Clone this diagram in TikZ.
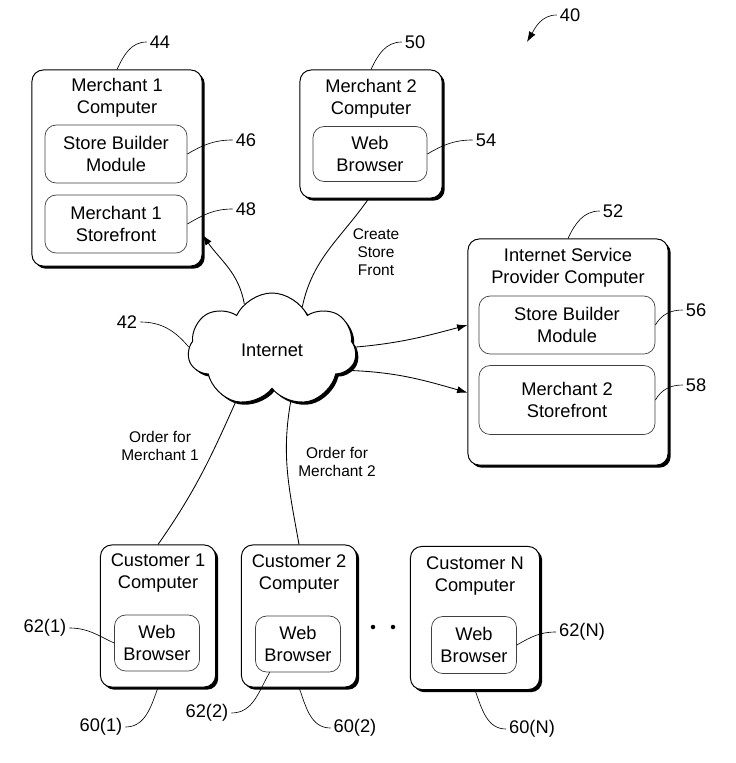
\documentclass[tikz,border=0pt]{standalone}
\usepackage{fontspec}
\setmainfont{Liberation Sans}
\usetikzlibrary{arrows.meta, positioning, shapes.symbols, shadows}

\newcommand{\boxfont}{\fontsize{13pt}{15.6pt}\selectfont}
\newcommand{\lblfont}{\fontsize{11pt}{12.8pt}\selectfont}

\begin{document}
\begin{tikzpicture}[x=0.025cm, y=-0.025cm, font=\boxfont,
  boxshadow/.style={drop shadow={shadow xshift=1.9pt, shadow yshift=-1.9pt, fill=black, opacity=1}},
  computer/.style={draw, line width=0.7pt, rounded corners=8pt, fill=white, boxshadow},
  module/.style={draw=black!75, line width=0.5pt, rounded corners=8pt, align=center},
  title/.style={align=center},
  leader/.style={line width=0.45pt},
  link/.style={line width=0.6pt},
  arrow/.style={link, -{Latex[length=2.6mm, width=1.8mm]}},
  linklabel/.style={font=\lblfont, align=center},
  refnum/.style={inner sep=2pt}]

\useasboundingbox (0,0) rectangle (736,763);

% merchant computers
\node[computer, minimum width=4.25cm, minimum height=4.9cm] (m1) at (117,168) {};
\node[title] (m1t) at (117,98) {Merchant 1\\Computer};
\node[module, minimum width=3.55cm, minimum height=1.45cm] (sbm1) at (116,154) {Store Builder\\Module};
\node[module, minimum width=3.55cm, minimum height=1.45cm] (sf1) at (116,224) {Merchant 1\\Storefront};

\node[computer, minimum width=3.55cm, minimum height=3.2cm] (m2) at (371,134) {};
\node[title] (m2t) at (371,99) {Merchant 2\\Computer};
\node[module, minimum width=2.85cm, minimum height=1.375cm] (wbm2) at (370,154) {Web\\Browser};

% isp computer
\node[computer, minimum width=5cm, minimum height=5.65cm] (isp) at (568,352) {};
\node[title] (ispt) at (568,268) {Internet Service\\Provider Computer};
\node[module, minimum width=4.4cm, minimum height=1.45cm] (sbmisp) at (567,325) {Store Builder\\Module};
\node[module, minimum width=4.4cm, minimum height=1.725cm] (sf2) at (567,400) {Merchant 2\\Storefront};

% internet
\node[cloud, draw, line width=0.7pt, cloud puffs=7, cloud puff arc=130, cloud ignores aspect, fill=white, boxshadow,
  minimum width=4.2cm, minimum height=2.85cm] (net) at (272,350) {Internet};

% customer computers
\node[computer, minimum width=2.875cm, minimum height=3.55cm] (c1) at (158,616) {};
\node[title] (c1t) at (158,573) {Customer 1\\Computer};
\node[module, minimum width=2.125cm, minimum height=1.4cm] (wbc1) at (157,643) {Web\\Browser};

\node[computer, minimum width=2.875cm, minimum height=3.55cm] (c2) at (299,616) {};
\node[title] (c2t) at (299,574) {Customer 2\\Computer};
\node[module, minimum width=2.125cm, minimum height=1.4cm] (wbc2) at (298,644) {Web\\Browser};

\node[computer, minimum width=3.225cm, minimum height=3.575cm] (cN) at (475,618) {};
\node[title] (cNt) at (475,576) {Customer N\\Computer};
\node[module, minimum width=2.125cm, minimum height=1.425cm] (wbcN) at (474,645) {Web\\Browser};

\fill (373,627) circle (1.6pt) (393,627) circle (1.6pt);

% connections
\draw[arrow] (net.121) to[out=100, in=-55] (m1.-38);
\draw[link] (net.55) to[out=78, in=-125] (m2.268);
\draw[arrow] (net.2) to[out=5, in=195] (isp.165);
\draw[arrow] (net.-15) to[out=-2, in=164] (isp.-158);
\draw[link] (net.-125) to[out=-114, in=55] (c1.north);
\draw[link] (net.-70) to[out=-100, in=100] (c2.north);

\node[linklabel] (lcsf) at (376,252) {Create\\Store\\Front};
\node[linklabel] (lo1) at (160,446) {Order for\\Merchant 1};
\node[linklabel] (lo2) at (337,462) {Order for\\Merchant 2};

% reference numerals
\node[refnum] (l40) at (570,15) {40};
\coordinate (p40) at (527,42);
\draw[leader, -{Latex[length=2.6mm, width=1.8mm]}] (l40.west) to[out=180, in=60] (p40);

\node[refnum] (l44) at (160,42) {44};
\node[refnum] (l46) at (246,140) {46};
\node[refnum] (l48) at (246,209) {48};
\node[refnum] (l50) at (415,42) {50};
\node[refnum] (l54) at (486,140) {54};
\node[refnum] (l52) at (613,211) {52};
\node[refnum] (l56) at (696,310) {56};
\node[refnum] (l58) at (696,385) {58};
\node[refnum] (l42) at (127,322) {42};
\node[refnum] (l621) at (45,628) {62(1)};
\node[refnum] (l601) at (101,727) {60(1)};
\node[refnum] (l622) at (207,713) {62(2)};
\node[refnum] (l602) at (355,728) {60(2)};
\node[refnum] (l60N) at (532,729) {60(N)};
\node[refnum] (l62N) at (582,632) {62(N)};

\draw[leader] (m1.north) to[out=65, in=180] (l44.west);
\draw[leader] (sbm1.east) to[out=30, in=180] (l46.west);
\draw[leader] (sf1.east) to[out=30, in=180] (l48.west);
\draw[leader] (m2.north) to[out=65, in=180] (l50.west);
\draw[leader] (wbm2.east) to[out=30, in=180] (l54.west);
\draw[leader] (isp.north) to[out=65, in=180] (l52.west);
\draw[leader] (sbmisp.east) to[out=60, in=180] (l56.west);
\draw[leader] (sf2.east) to[out=60, in=180] (l58.west);
\draw[leader] (l42.east) to[out=0, in=130] (net.178);
\draw[leader] (l621.east) to[out=0, in=155] (wbc1.west);
\draw[leader] (c1.south) to[out=-110, in=0] (l601.east);
\draw[leader] (l622.east) to[out=0, in=-120] (wbc2.-135);
\draw[leader] (c2.south) to[out=-70, in=180] (l602.west);
\draw[leader] (cN.south) to[out=-70, in=180] (l60N.west);
\draw[leader] (wbcN.east) to[out=30, in=180] (l62N.west);
\end{tikzpicture}
\end{document}
